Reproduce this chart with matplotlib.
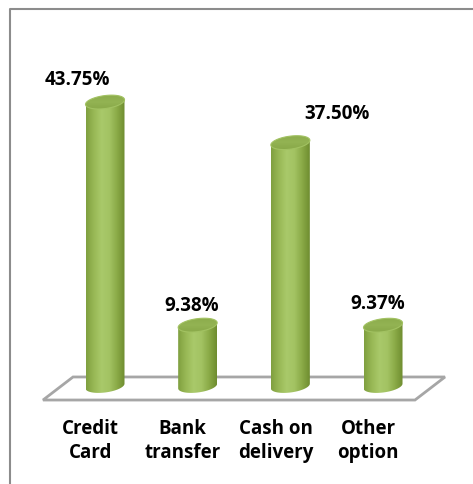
import numpy as np
import matplotlib
matplotlib.use("Agg")
import matplotlib.pyplot as plt
from matplotlib.patches import Polygon
from matplotlib.lines import Line2D
from matplotlib.colors import LinearSegmentedColormap

# ---- data ----
categories = ["Credit\nCard", "Bank\ntransfer", "Cash on\ndelivery", "Other\noption"]
values = [43.75, 9.38, 37.50, 9.37]
value_labels = ["43.75%", "9.38%", "37.50%", "9.37%"]

# ---- layout / style ----
W, H = 473, 484
px_x, x0px = 92.67, 105.0      # pixels per category, first category pixel
px_y, y0px = 6.49, 386.0       # pixels per percent, baseline pixel (from top)
label_dx = [-0.30, -0.06, 0.50, -0.06]   # value label offsets (category units)
label_dy = [3.4, 3.0, 4.4, 3.2]          # value label offsets (percent units)
cat_dx = -0.16
cat_y = -8.5

fig = plt.figure(figsize=(W / 100, H / 100), dpi=100)
fig.patch.set_facecolor("white")
ax = fig.add_axes([0, 0, 1, 1])
ax.set_xlim(-x0px / px_x, (W - x0px) / px_x)
ax.set_ylim(-(H - y0px) / px_y, y0px / px_y)
ax.axis("off")

n = len(values)
# floor (parallelogram)
back_l, back_r = -0.345, (n - 1) + 0.669
shift = -0.324
y_back, y_front = 1.39, -2.16
floor = Polygon([(back_l, y_back), (back_r, y_back), (back_r + shift, y_front), (back_l + shift, y_front)],
                closed=True, facecolor="white", edgecolor="#a6a6a6", lw=2.0, zorder=1)
ax.add_patch(floor)

cmap = LinearSegmentedColormap.from_list(
    "cyl", ["#7f9f3f", "#98b855", "#a9c96a", "#a3c363", "#8aaa47", "#6e8c2f"])
top_cmap = LinearSegmentedColormap.from_list("top", ["#86a646", "#93b353", "#8aaa4a"])
r = 19.5 / px_x
b = 6.5 / px_y
s = 0.36
t_low = np.linspace(np.pi, 2 * np.pi, 60)
t_all = np.linspace(0, 2 * np.pi, 120)

for i, v in enumerate(values):
    cx = i
    # body outline
    xs = [cx - r]
    ys = [v - s]
    xs += list(cx + r * np.cos(t_low))
    ys += list(b * np.sin(t_low) + s * np.cos(t_low))
    xs += [cx + r]
    ys += [v + s]
    body = Polygon(np.column_stack([xs, ys]), closed=True, facecolor="none", edgecolor="none", zorder=2)
    ax.add_patch(body)
    grad = np.linspace(0, 1, 256).reshape(1, -1)
    im = ax.imshow(grad, cmap=cmap, extent=(cx - r, cx + r, -b - s - 0.2, v + s + 0.2),
                   aspect="auto", zorder=2, interpolation="bilinear")
    im.set_clip_path(body)
    # top ellipse
    top = Polygon(np.column_stack([cx + r * np.cos(t_all), v + b * np.sin(t_all) + s * np.cos(t_all)]),
                  closed=True, facecolor="none", edgecolor="#a2c262", lw=0.8, zorder=4)
    ax.add_patch(top)
    tim = ax.imshow(grad.T[::-1], cmap=top_cmap, extent=(cx - r, cx + r, v - b - s, v + b + s),
                    aspect="auto", zorder=3, interpolation="bilinear")
    tim.set_clip_path(top)
    ax.text(cx + label_dx[i], v + label_dy[i], value_labels[i], ha="center", va="center",
            fontsize=13.5, fontweight="bold", family=["Open Sans", "DejaVu Sans"], color="black", zorder=5)
    ax.text(cx + cat_dx, cat_y, categories[i], ha="center", va="center", linespacing=1.3,
            fontsize=13.5, fontweight="bold", family=["Open Sans", "DejaVu Sans"], color="black", zorder=5)

ax.set_xlim(-x0px / px_x, (W - x0px) / px_x)
ax.set_ylim(-(H - y0px) / px_y, y0px / px_y)

# chart border (top and left visible)
bx, by = 9.5 / W, 1 - 8.5 / H
fig.add_artist(Line2D([bx, bx, 1.01], [-0.01, by, by], transform=fig.transFigure,
                      color="#8c8c8c", lw=1.5))

fig.savefig("out.png", dpi=100, facecolor="white")
